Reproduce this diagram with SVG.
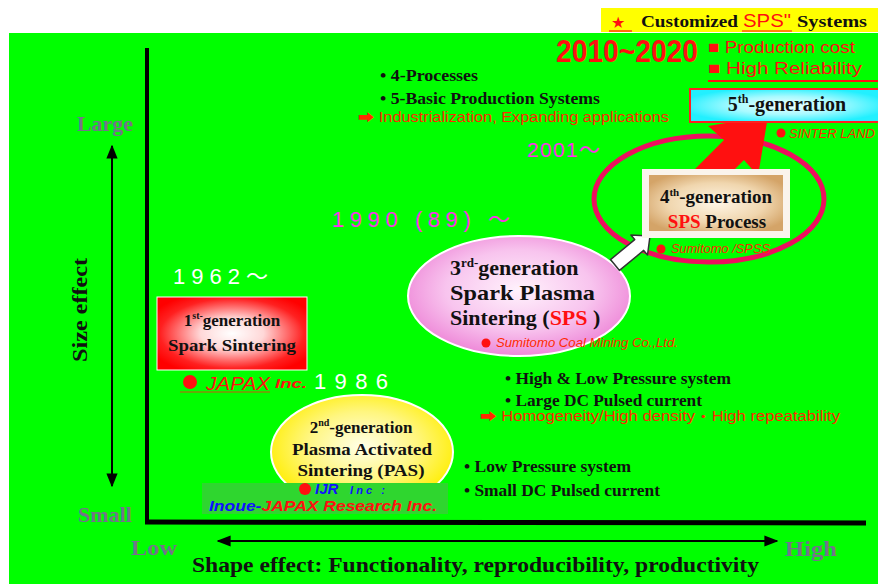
<svg xmlns="http://www.w3.org/2000/svg" width="878" height="584" viewBox="0 0 878 584">
<defs>
<style>
.ser{font-family:"Liberation Serif","Times New Roman",serif;font-weight:bold}
.sans{font-family:"Liberation Sans",Arial,"Noto Sans CJK JP",sans-serif}
.blk{fill:#111}
.red{fill:#ff1010}
.orn{fill:#ff2a00}
.gray{fill:#74748a}
.wht{fill:#ffffff}
.pink{fill:#ff30ee}
.blue{fill:#1010ff}
.it{font-style:italic}
.ax{stroke:#000;fill:none}
</style>
<marker id="ah" viewBox="0 0 10 10" refX="9" refY="5" markerWidth="7" markerHeight="7" orient="auto-start-reverse">
<path d="M0,1 L10,5 L0,9 z" fill="#000"/>
</marker>
<radialGradient id="gRed" cx="50%" cy="50%" r="60%">
<stop offset="0" stop-color="#ffffff"/>
<stop offset="0.35" stop-color="#ffd8d8"/>
<stop offset="0.8" stop-color="#ff2020"/>
<stop offset="1" stop-color="#ff0000"/>
</radialGradient>
<radialGradient id="gPink" cx="50%" cy="45%" r="55%">
<stop offset="0" stop-color="#fff2fc"/>
<stop offset="0.6" stop-color="#f8c4ee"/>
<stop offset="1" stop-color="#ee88d8"/>
</radialGradient>
<radialGradient id="gYel" cx="50%" cy="45%" r="55%">
<stop offset="0" stop-color="#ffffe8"/>
<stop offset="0.55" stop-color="#fff680"/>
<stop offset="1" stop-color="#ffee00"/>
</radialGradient>
<radialGradient id="gTan" cx="50%" cy="50%" r="60%">
<stop offset="0" stop-color="#fff6e6"/>
<stop offset="0.6" stop-color="#f0d6ae"/>
<stop offset="1" stop-color="#d4a468"/>
</radialGradient>
<radialGradient id="gCyan" cx="50%" cy="50%" r="55%">
<stop offset="0" stop-color="#f0ffff"/>
<stop offset="0.5" stop-color="#a8faff"/>
<stop offset="1" stop-color="#22f0ff"/>
</radialGradient>
</defs>

<rect x="0" y="0" width="878" height="584" fill="#ffffff"/>
<rect x="9" y="33" width="869" height="551" fill="#00ff00"/>

<!-- top label -->
<g id="title">
<rect x="601" y="8" width="277" height="24" fill="#ffff00"/>
<text x="611" y="28" font-family="DejaVu Sans,sans-serif" font-size="16" fill="#ff1010">★</text>
<line x1="609" y1="31" x2="632" y2="31" stroke="#ff1010" stroke-width="1.2"/>
<text x="641" y="27" class="ser blk" font-size="17" textLength="97" lengthAdjust="spacingAndGlyphs">Customized</text>
<text x="743" y="27" class="sans red" font-size="18" textLength="48" lengthAdjust="spacingAndGlyphs">SPS"</text>
<line x1="742" y1="31" x2="792" y2="31" stroke="#ff1010" stroke-width="1.2"/>
<text x="797" y="27" class="ser blk" font-size="17" textLength="70" lengthAdjust="spacingAndGlyphs">Systems</text>
</g>

<!-- axes -->
<g id="axes">
<line x1="147" y1="48" x2="147" y2="524" class="ax" stroke-width="4"/>
<line x1="145" y1="522" x2="866" y2="523" class="ax" stroke-width="5"/>
<line x1="112" y1="146" x2="112" y2="486" class="ax" stroke-width="2" marker-start="url(#ah)" marker-end="url(#ah)"/>
<line x1="218" y1="541" x2="777" y2="541" class="ax" stroke-width="2" marker-start="url(#ah)" marker-end="url(#ah)"/>
<text x="105" y="131" class="ser gray" font-size="22" text-anchor="middle">Large</text>
<text x="105" y="522" class="ser gray" font-size="22" text-anchor="middle">Small</text>
<text x="131" y="555" class="ser gray" font-size="20" textLength="46" lengthAdjust="spacingAndGlyphs">Low</text>
<text x="785" y="556" class="ser gray" font-size="20" textLength="52" lengthAdjust="spacingAndGlyphs">High</text>
<text transform="translate(87,310) rotate(-90)" class="ser blk" font-size="21" text-anchor="middle" textLength="104" lengthAdjust="spacingAndGlyphs">Size effect</text>
<text x="192" y="572" class="ser blk" font-size="20" textLength="567" lengthAdjust="spacingAndGlyphs">Shape effect: Functionality, reproducibility, productivity</text>
</g>

<!-- top-right era text -->
<g id="era2010">
<text x="556" y="62" class="sans red" font-size="31" font-weight="bold" textLength="142" lengthAdjust="spacingAndGlyphs">2010~2020</text>
<text x="708" y="53" class="sans red" font-size="17" textLength="147" lengthAdjust="spacingAndGlyphs">■ Production cost</text>
<text x="708" y="74" class="sans red" font-size="17" textLength="154" lengthAdjust="spacingAndGlyphs">■  High Reliability</text>
<line x1="708" y1="81" x2="878" y2="81" stroke="#ff1010" stroke-width="2"/>
</g>

<!-- bullets -->
<g id="notes">
<text x="380" y="81" class="ser blk" font-size="16" textLength="98" lengthAdjust="spacingAndGlyphs">• 4-Processes</text>
<text x="380" y="104" class="ser blk" font-size="16" textLength="220" lengthAdjust="spacingAndGlyphs">• 5-Basic Production Systems</text>
<text x="358" y="122" class="sans orn" font-size="14" textLength="311" lengthAdjust="spacingAndGlyphs">➡ Industrialization, Expanding applications</text>
<text x="505" y="384" class="ser blk" font-size="16" textLength="226" lengthAdjust="spacingAndGlyphs">• High &amp; Low Pressure system</text>
<text x="505" y="406" class="ser blk" font-size="16" textLength="197" lengthAdjust="spacingAndGlyphs">• Large DC Pulsed current</text>
<text x="480" y="421" class="sans orn" font-size="14" textLength="360" lengthAdjust="spacingAndGlyphs">➡ Homogeneity/High density・High repeatability</text>
<text x="464" y="472" class="ser blk" font-size="16" textLength="167" lengthAdjust="spacingAndGlyphs">• Low Pressure system</text>
<text x="464" y="496" class="ser blk" font-size="16" textLength="196" lengthAdjust="spacingAndGlyphs">• Small DC Pulsed current</text>
</g>

<!-- year labels -->
<g id="years">
<text x="527" y="157" class="sans pink" font-size="21" textLength="73" lengthAdjust="spacing">2001～</text>
<text x="332" y="227" class="sans pink" font-size="22" textLength="178" lengthAdjust="spacing">1990 (89) ～</text>
<text x="173" y="284" class="sans wht" font-size="22" textLength="95" lengthAdjust="spacing">1962～</text>
<text x="314" y="389" class="sans wht" font-size="22" textLength="74" lengthAdjust="spacing">1986</text>
</g>

<!-- red ring -->
<ellipse id="ring" cx="709" cy="199" rx="115" ry="63" fill="none" stroke="#ee0f5e" stroke-width="5"/>

<!-- 3rd generation -->
<g id="gen3">
<ellipse cx="519" cy="296" rx="111" ry="60" fill="url(#gPink)" stroke="#ffffff" stroke-width="2"/>
<text x="450" y="275" class="ser blk" font-size="22">3<tspan font-size="13" dy="-8">rd-</tspan><tspan dy="8">generation</tspan></text>
<text x="450" y="300" class="ser blk" font-size="22" textLength="145" lengthAdjust="spacingAndGlyphs">Spark Plasma</text>
<text x="450" y="325" class="ser blk" font-size="22">Sintering (<tspan fill="#ff1010">SPS</tspan> )</text>
<circle cx="486" cy="343" r="4.5" fill="#ff1010"/>
<text x="496" y="347" class="sans it orn" font-size="12" textLength="182" lengthAdjust="spacingAndGlyphs">Sumitomo Coal Mining Co.,Ltd.</text>
</g>

<!-- connectors -->
<g id="connectors">
<polygon points="768,116 758,176 744,160 710,194 690,174 724,140 708,126" fill="#ff1010"/>
<polygon points="650,236 647.5,255 643.7,250.4 619.5,270.4 610.5,259.6 634.7,239.6 630.9,235" fill="#ffffff" stroke="#333" stroke-width="1.5" stroke-linejoin="round"/>
</g>

<!-- 4th generation -->
<g id="gen4">
<rect x="642" y="169" width="148" height="69" fill="#faf4ec"/>
<rect x="649" y="175" width="134" height="56" fill="url(#gTan)"/>
<text x="716" y="203" class="ser blk" font-size="19" text-anchor="middle">4<tspan font-size="11" dy="-7">th</tspan><tspan dy="7">-generation</tspan></text>
<text x="717" y="228" class="ser blk" font-size="19" text-anchor="middle"><tspan fill="#ff1010">SPS</tspan> Process</text>
<circle cx="661" cy="249" r="4.5" fill="#ff1010"/>
<text x="671" y="253" class="sans it orn" font-size="12" textLength="99" lengthAdjust="spacingAndGlyphs">Sumitomo /SPSS</text>
</g>

<!-- 5th generation -->
<g id="gen5">
<rect x="690" y="89" width="190" height="33" fill="url(#gCyan)" stroke="#ff2020" stroke-width="2"/>
<text x="787" y="111" class="ser blk" font-size="20" text-anchor="middle">5<tspan font-size="12" dy="-8">th</tspan><tspan dy="8">-generation</tspan></text>
<circle cx="781" cy="133" r="4.5" fill="#ff1010"/>
<text x="789" y="138" class="sans it orn" font-size="12" textLength="86" lengthAdjust="spacingAndGlyphs">SINTER LAND</text>
</g>

<!-- 1st generation -->
<g id="gen1">
<rect x="157" y="297" width="150" height="73" fill="url(#gRed)" stroke="#ffffff" stroke-width="1"/>
<text x="232" y="326" class="ser blk" font-size="17" text-anchor="middle">1<tspan font-size="10" dy="-7">st-</tspan><tspan dy="7">generation</tspan></text>
<text x="232" y="351" class="ser blk" font-size="17" text-anchor="middle" textLength="128" lengthAdjust="spacingAndGlyphs">Spark Sintering</text>
<circle cx="190" cy="382" r="7" fill="#ff1010"/>
<text x="206" y="390" class="sans it red" font-size="19" textLength="64" lengthAdjust="spacingAndGlyphs">JAPAX</text>
<text x="275" y="388" class="sans it red" font-size="13" font-weight="bold" textLength="32" lengthAdjust="spacingAndGlyphs">Inc.</text>
<line x1="180" y1="392" x2="270" y2="392" stroke="#d05010" stroke-width="1"/>
</g>

<!-- 2nd generation -->
<g id="gen2">
<ellipse cx="362" cy="452" rx="91" ry="57" fill="url(#gYel)" stroke="#ffffff" stroke-width="2"/>
<text x="361" y="433" class="ser blk" font-size="17" text-anchor="middle">2<tspan font-size="10" dy="-7">nd</tspan><tspan dy="7">-generation</tspan></text>
<text x="362" y="455" class="ser blk" font-size="17" text-anchor="middle" textLength="140" lengthAdjust="spacingAndGlyphs">Plasma Activated</text>
<text x="361" y="476" class="ser blk" font-size="17" text-anchor="middle" textLength="127" lengthAdjust="spacingAndGlyphs">Sintering (PAS)</text>
<rect x="202" y="483" width="246" height="31" fill="#2fd62f"/>
<circle cx="305" cy="489" r="6" fill="#ff1010"/>
<text x="315" y="494" class="sans it blue" font-size="15" font-weight="bold">IJR</text>
<text x="350" y="494" class="sans it blue" font-size="11" font-weight="bold" textLength="35" lengthAdjust="spacing">Inc :</text>
<text x="209" y="511" class="sans it" font-size="15" font-weight="bold" textLength="228" lengthAdjust="spacingAndGlyphs"><tspan class="blue">Inoue-</tspan><tspan class="red">JAPAX  Research Inc.</tspan></text>
</g>
</svg>
